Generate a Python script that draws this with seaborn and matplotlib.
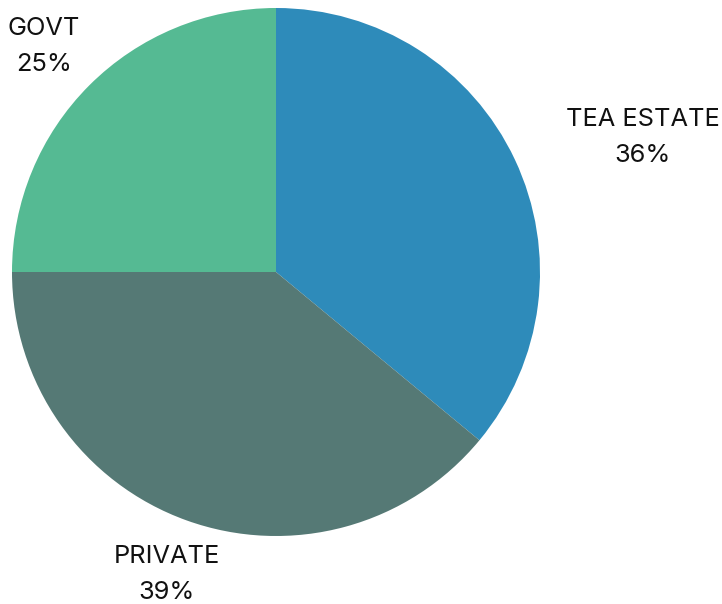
import matplotlib
matplotlib.use("Agg")
import matplotlib.pyplot as plt
import seaborn as sns
import numpy as np

sns.set_theme(style="white")
plt.rcParams['font.family'] = ['Inter', 'DejaVu Sans']

categories = ["TEA ESTATE", "PRIVATE", "GOVT"]
shares = [36, 39, 25]
colors = ["#2E8BBA", "#557975", "#55BA93"]
# label anchor (x, y) in axes data units, one per slice
label_pos = [(1.39, 0.51), (-0.415, -1.145), (-0.88, 0.855)]

W, H = 722, 604
fig = plt.figure(figsize=(W / 100, H / 100), dpi=100)
cx, cy, r = 276, 272, 264
ax = fig.add_axes([(cx - r) / W, (H - cy - r) / H, 2 * r / W, 2 * r / H])

ax.pie(shares, colors=colors, startangle=90, counterclock=False,
       radius=1.0, wedgeprops=dict(linewidth=0))
ax.set_xlim(-1, 1)
ax.set_ylim(-1, 1)
ax.set_aspect("equal")
ax.axis("off")

for name, val, (x, y) in zip(categories, shares, label_pos):
    ax.text(x, y, f"{name}\n{val}%", ha="center", va="center",
            fontsize=18.3, color="#111111", linespacing=1.72, clip_on=False)

fig.savefig("out.png", dpi=100)
